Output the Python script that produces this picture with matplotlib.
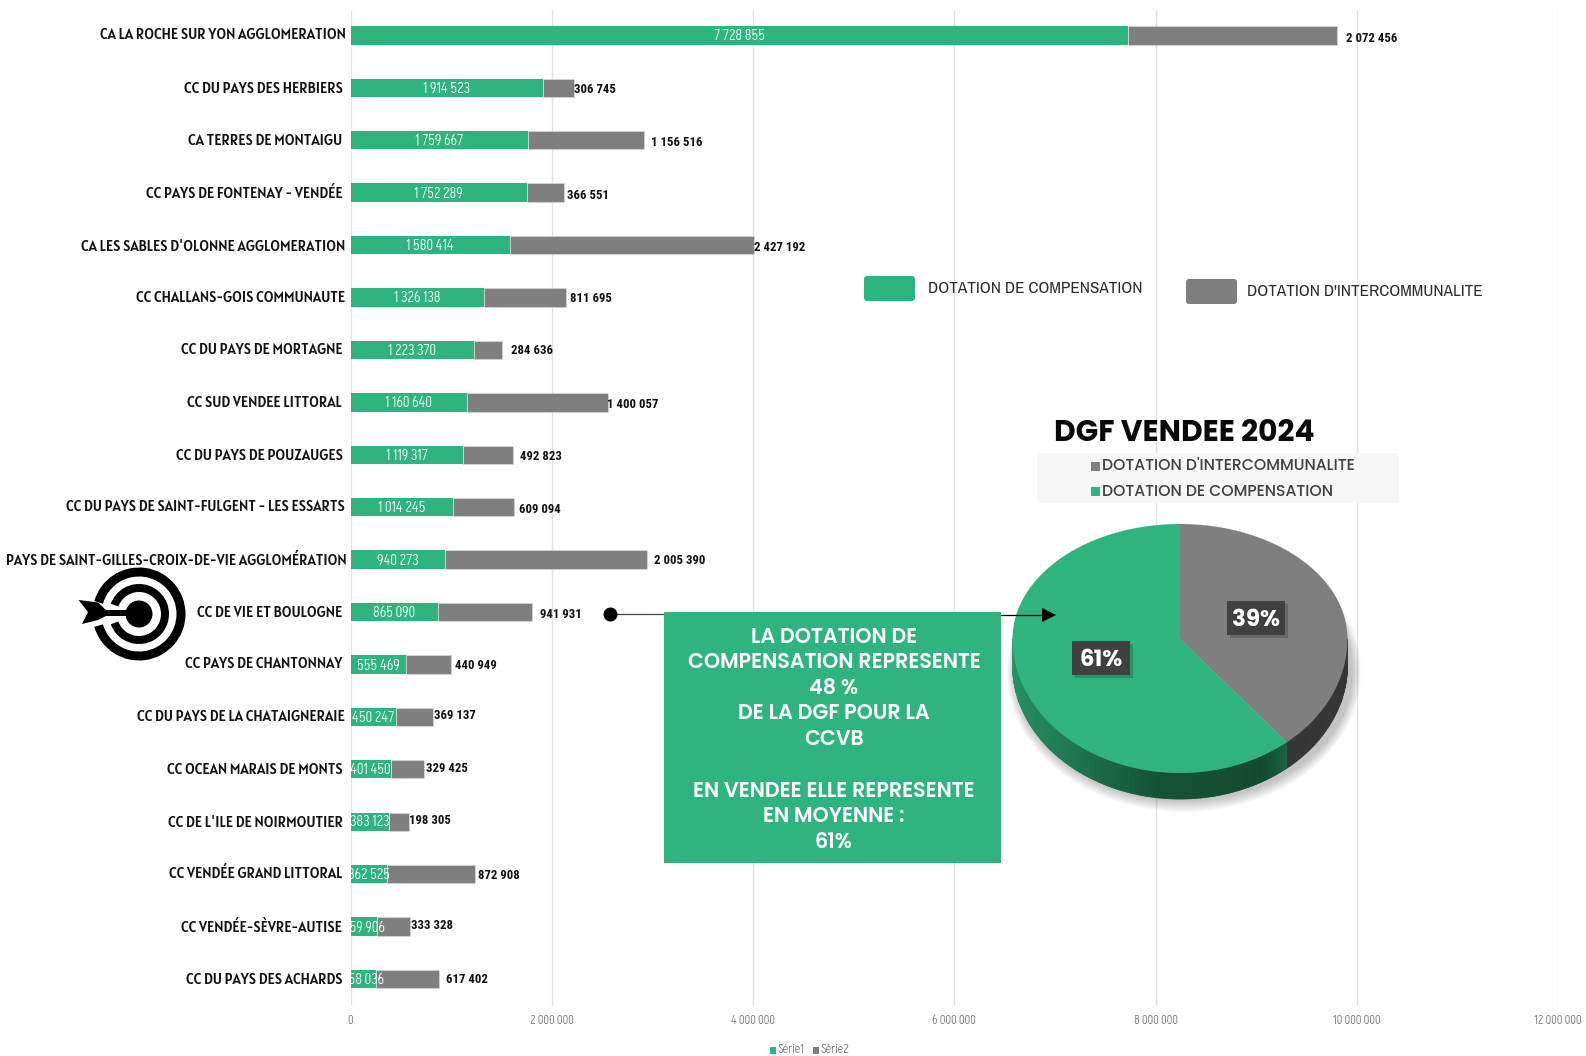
import matplotlib
matplotlib.use("Agg")
import matplotlib.pyplot as plt
import numpy as np
from matplotlib.patches import Circle, Rectangle, FancyBboxPatch, Polygon, Ellipse, Wedge
from matplotlib.transforms import Affine2D, ScaledTranslation
from matplotlib.collections import PolyCollection

W, H = 1586, 1056
CAT_FONT = ['Alatsi', 'Roboto', 'DejaVu Sans']
VAL_FONT = ['Roboto Condensed', 'Roboto', 'DejaVu Sans']
THIN_FONT = ['Akshar', 'Roboto', 'DejaVu Sans']
LEG_FONT = ['Archivo Narrow', 'Liberation Sans', 'DejaVu Sans']
GEO = ['Poppins', 'Lato', 'DejaVu Sans']

categories = ["CA LA ROCHE SUR YON AGGLOMERATION", "CC DU PAYS DES HERBIERS", "CA TERRES DE MONTAIGU",
              "CC PAYS DE FONTENAY - VENDÉE", "CA LES SABLES D'OLONNE AGGLOMERATION", "CC CHALLANS-GOIS COMMUNAUTE",
              "CC DU PAYS DE MORTAGNE", "CC SUD VENDEE LITTORAL", "CC DU PAYS DE POUZAUGES",
              "CC DU PAYS DE SAINT-FULGENT - LES ESSARTS", "PAYS DE SAINT-GILLES-CROIX-DE-VIE AGGLOMÉRATION",
              "CC DE VIE ET BOULOGNE", "CC PAYS DE CHANTONNAY", "CC DU PAYS DE LA CHATAIGNERAIE",
              "CC OCEAN MARAIS DE MONTS", "CC DE L'ILE DE NOIRMOUTIER", "CC VENDÉE GRAND LITTORAL",
              "CC VENDÉE-SÈVRE-AUTISE", "CC DU PAYS DES ACHARDS"]
compensation = [7728855, 1914523, 1759667, 1752289, 1580414, 1326138, 1223370, 1160640, 1119317, 1014245,
                940273, 865090, 555469, 450247, 401450, 383123, 362525, 259906, 258036]
intercommunalite = [2072456, 306745, 1156516, 366551, 2427192, 811695, 284636, 1400057, 492823, 609094,
                    2005390, 941931, 440949, 369137, 329425, 198305, 872908, 333328, 617402]
x_ticks = [0, 2000000, 4000000, 6000000, 8000000, 10000000, 12000000]
pie_labels = ["DOTATION D'INTERCOMMUNALITE", "DOTATION DE COMPENSATION"]
pie_shares = [39, 61]
series_names = ["Série1", "Série2"]
box_lines = ["LA DOTATION DE", "COMPENSATION REPRESENTE", "48 %", "DE LA DGF POUR LA", "CCVB", "",
             "EN VENDEE ELLE REPRESENTE", "EN MOYENNE :", "61%"]
chart_title = "DGF VENDEE 2024"

# layout nudges (pixels): the value labels were hand placed in the original
label_dx = [9, 0, 7, 3, 0, 4, 9, -1, 7, 5, 7, 8, 4, 1.5, 2, 0, 3, 1, 7]
label_dy = [3, 2, 2, 3, 2, 1, 1, 2, 2, 2, 1, 2, 1, -1, -1, -1, 1, -1, 1]
cat_dx = [3, 0, -1, 0, 2, 2, 0, -1, 0, 2, 4, -1, 0, 2, 0, 0, 0, -1, 0]
cat_dy = [-2, -1, -1, -1, 0, -1, -2, -1, -1, -2, -1, -1, -2, -2, -1, -1, -2, -1, -1]

GREEN = '#30B47F'
GREY = '#7F7F7F'

def fmt(v):
    return f"{v:,}".replace(",", " ")

def px(v):
    return v * 72 / 100

fig = plt.figure(figsize=(W / 100, H / 100), dpi=100, facecolor='white')

# ---- bar chart
X0, X1, T, B = 350.5, 350.5 + 6 * 201.3, 10, 1006
ROW0, STEP = 35.4, 52.42
ax = fig.add_axes([X0 / W, 1 - B / H, (X1 - X0) / W, (B - T) / H], facecolor='none')
y = np.arange(len(categories))
ax.set_xlim(0, 12000000)
ax.set_ylim((B - ROW0) / STEP, (T - ROW0) / STEP)
ax.barh(y, compensation, height=0.35, color=GREEN, edgecolor='none', zorder=3)
ax.barh(y, intercommunalite, left=compensation, height=0.35, color=GREY, edgecolor='#dddddd', linewidth=0.4, zorder=3)
ax.xaxis.grid(True, color='#e2e2e2', linewidth=1)
ax.set_axisbelow(True)
for s in ax.spines.values():
    s.set_visible(False)
ax.set_xticks(x_ticks)
ax.set_xticklabels([fmt(v) for v in x_ticks], fontfamily=THIN_FONT, fontsize=9.0, color='#7a7a7a')
ax.tick_params(axis='x', length=0, pad=6)
ax.set_yticks(y)
ax.set_yticklabels(categories, fontfamily=CAT_FONT, fontsize=10.55, color='#111111')
ax.tick_params(axis='y', length=0, pad=5.5)
for lbl, dx, dy in zip(ax.get_yticklabels(), cat_dx, cat_dy):
    lbl.set_transform(lbl.get_transform() + ScaledTranslation(px(dx) / 72, -px(dy) / 72, fig.dpi_scale_trans))

for i in range(len(categories)):
    a, b = compensation[i], intercommunalite[i]
    ax.text(a / 2, i + 0.015, fmt(a), ha='center', va='center', color='#f2fff8', fontfamily=THIN_FONT,
            fontsize=10.6, clip_on=True, zorder=5)
    ax.annotate(fmt(b), xy=(a + b, i), xytext=(px(label_dx[i]), -px(label_dy[i])), textcoords='offset points',
                ha='left', va='center', fontfamily=VAL_FONT, fontweight='bold', fontsize=9.2, color='#111111', zorder=5)

# ---- pie with elliptical, off-centre projection
CX, CY = 1180, 639
RX, RT, RB, DEPTH = 167.5, 115, 134, 26
PL, PR, PT, PB = 960, 1400, 500, 830
pa = fig.add_axes([PL / W, 1 - PB / H, (PR - PL) / W, (PB - PT) / H], facecolor='none')
wedges, _ = pa.pie(pie_shares, colors=[GREY, GREEN], startangle=90, counterclock=False, radius=1)
pa.set_aspect('auto')
pa.set_xlim(PL - CX, PR - CX)
pa.set_ylim(CY - PB, CY - PT)
pa.axis('off')

for k in range(12):   # soft drop shadow, below and to the right
    g = 12 - k
    pa.add_patch(Ellipse((4, -33), 2 * RX + 1.6 * g, 2 * 128 + 2.0 * g, facecolor='#555555', edgecolor='none', alpha=0.03, zorder=1))

split = 90 - pie_shares[0] * 3.6 + 360   # math angle of the grey/green border on the lower right
th = np.radians(np.linspace(180, 360, 181))
def rim_color(deg):
    if deg > split:
        return '#353535'
    stops_d = [180, 225, 262, 300, split]
    stops_c = np.array([[0x2A, 0x96, 0x68], [0x1F, 0x7C, 0x55], [0x14, 0x52, 0x37], [0x12, 0x4A, 0x30], [0x18, 0x62, 0x42]]) / 255
    return tuple(np.interp(deg, stops_d, stops_c[:, j]) for j in range(3))
quads, cols = [], []
for t0, t1 in zip(th[:-1], th[1:]):
    x0, x1 = RX * np.cos(t0), RX * np.cos(t1)
    y0, y1 = RB * np.sin(t0), RB * np.sin(t1)
    quads.append([(x0, y0), (x1, y1), (x1, y1 - DEPTH), (x0, y0 - DEPTH)])
    cols.append(rim_color(np.degrees((t0 + t1) / 2)))
pa.add_collection(PolyCollection(quads, facecolors=cols, edgecolors=cols, linewidths=0.6, zorder=2))

for w in wedges:
    scaled = Affine2D().scale(1000).transform_path(w.get_patch_transform().transform_path(w.get_path()))
    poly = scaled.to_polygons(closed_only=True)[0] / 1000
    poly = np.column_stack([poly[:, 0] * RX, np.where(poly[:, 1] > 0, poly[:, 1] * RT, poly[:, 1] * RB)])
    pa.add_patch(Polygon(poly, closed=True, facecolor=w.get_facecolor(), edgecolor='none', zorder=3))
    w.set_visible(False)

# ---- overlay in pixel coordinates
ov = fig.add_axes([0, 0, 1, 1], facecolor='none')
ov.set_xlim(0, W)
ov.set_ylim(H, 0)
ov.axis('off')

# top legend
ov.add_patch(FancyBboxPatch((864, 276), 51, 25, boxstyle="round,pad=0,rounding_size=3", facecolor=GREEN, edgecolor='none'))
ov.add_patch(FancyBboxPatch((1186, 279), 51, 25, boxstyle="round,pad=0,rounding_size=3", facecolor=GREY, edgecolor='none'))
ov.text(928, 288.5, "DOTATION DE COMPENSATION", fontfamily=LEG_FONT, fontsize=12.3, color='#2a2a2a', va='center')
ov.text(1247, 291, "DOTATION D'INTERCOMMUNALITE", fontfamily=LEG_FONT, fontsize=12.3, color='#2a2a2a', va='center')

# pie title and legend
ov.text(1184.5, 434, chart_title, ha='center', va='center', fontfamily=GEO, fontweight='bold', fontsize=21.4, color='#0a0a0a')
ov.add_patch(Rectangle((1037, 453), 362, 50, facecolor='#f7f7f7', edgecolor='none'))
ov.add_patch(Rectangle((1091, 462), 9, 9, facecolor=GREY, edgecolor='none'))
ov.add_patch(Rectangle((1091, 487), 9, 9, facecolor=GREEN, edgecolor='none'))
ov.text(1102, 466, pie_labels[0], fontfamily=GEO, fontweight='medium', fontsize=11.3, color='#404040', va='center')
ov.text(1102, 492.5, pie_labels[1], fontfamily=GEO, fontweight='medium', fontsize=11.3, color='#404040', va='center')

# pie data labels
for (x, yy, s) in [(1227, 601, f"{pie_shares[0]}%"), (1072, 641, f"{pie_shares[1]}%")]:
    ov.add_patch(Rectangle((x + 3, yy + 3), 58, 34, facecolor='#000000', alpha=0.18, edgecolor='none'))
    ov.add_patch(Rectangle((x, yy), 58, 34, facecolor='#404040', edgecolor='none'))
    ov.text(x + 29, yy + 20, s, ha='center', va='center', color='white', fontfamily=GEO, fontweight='bold', fontsize=16.5)

# green call-out
ov.add_patch(Rectangle((664, 612), 337, 251, facecolor=GREEN, edgecolor='none', zorder=4))
line_y = [638, 663, 689, 714, 740, 766, 792, 817, 843]
for s, yy in zip(box_lines, line_y):
    if s:
        ov.text(834, yy, s, ha='center', va='center', color='white', fontfamily=GEO, fontweight='semibold', fontsize=14.9, zorder=5)

# connector
ov.plot([610, 664], [614, 614], color='#444444', lw=0.9, zorder=3)
ov.add_patch(Circle((610.5, 614.5), 7, facecolor='black', edgecolor='none', zorder=3))
ov.plot([1001, 1044], [615, 615], color='black', lw=0.9, zorder=3)
ov.add_patch(Polygon([(1042, 608), (1056, 615), (1042, 622)], closed=True, facecolor='black', edgecolor='none', zorder=3))

# target icon
TX, TY = 139, 614
ov.add_patch(Wedge((TX, TY), 46.5, 196, 164, width=9, facecolor='black', edgecolor='none', zorder=6))
ov.add_patch(Wedge((TX, TY), 30, 200, 160, width=8, facecolor='black', edgecolor='none', zorder=6))
ov.add_patch(Circle((TX, TY), 13.5, facecolor='black', edgecolor='none', zorder=6))
ov.add_patch(Polygon([(78.5, 600), (98, 602.5), (106, 610), (TX - 5, 610), (TX - 5, 616), (106, 616), (98, 620), (82, 624), (88, 612)],
                     closed=True, facecolor='black', edgecolor='none', zorder=7))

# bottom series legend
ov.add_patch(Rectangle((770, 1047), 6, 6.5, facecolor=GREEN, edgecolor='none'))
ov.add_patch(Rectangle((813, 1047), 6, 6.5, facecolor=GREY, edgecolor='none'))
ov.text(778, 1049.5, series_names[0], fontfamily=THIN_FONT, fontsize=9.2, color='#7a7a7a', va='center')
ov.text(821, 1049.5, series_names[1], fontfamily=THIN_FONT, fontsize=9.2, color='#7a7a7a', va='center')

fig.savefig('out.png', dpi=100, facecolor='white')
